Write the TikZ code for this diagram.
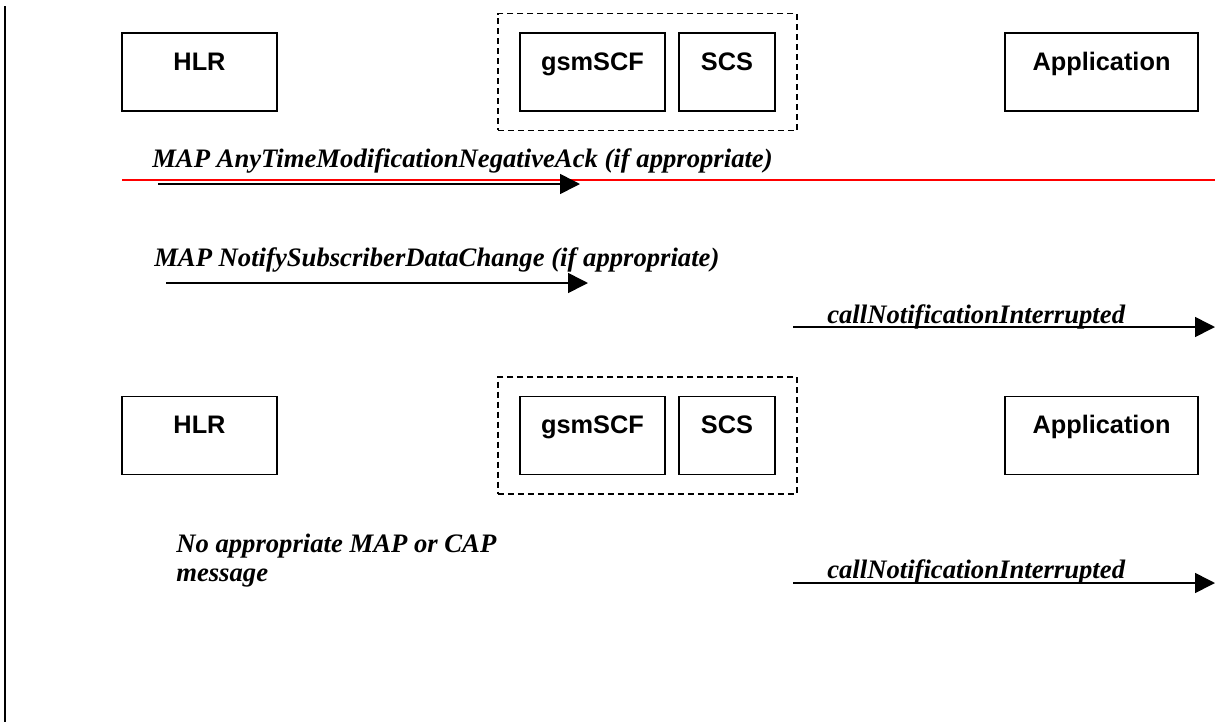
\documentclass[tikz,border=0pt]{standalone}
\usepackage{fontspec}
\setmainfont{Liberation Serif}
\newfontfamily\boxfont{Liberation Sans}
\usetikzlibrary{arrows.meta,fit}
\newcommand{\msgSize}{\fontsize{20}{21.75}\selectfont}

\begin{document}
\begin{tikzpicture}[x=0.75pt, y=-0.75pt]
  \tikzset{entity/.style={draw, line width=1.2pt, minimum height=58.5pt,
      text height=14pt, text depth=17pt,
      font=\boxfont\bfseries\fontsize{19}{23}\selectfont},
    group/.style={draw, line width=1.2pt, dash pattern=on 4.5pt off 3pt,
      inner xsep=16pt, inner ysep=14pt},
    msg/.style={font=\bfseries\itshape\msgSize, inner sep=0pt, anchor=base west, align=left},
    flow/.style={line width=1.2pt, -{Triangle[length=15pt,width=15pt]}}}
  \useasboundingbox (0,0) rectangle (1215,722);
  % left margin rule
  \coordinate (rule-t) at (5,6);
  \coordinate (rule-b) at (5,722);
  \draw[line width=1.5pt] (rule-t) -- (rule-b);
  % first state
  \node[entity, minimum width=116.25pt] (HLR-1) at (199.5,72) {HLR};
  \node[entity, minimum width=108.75pt] (gsmSCF-1) at (592.5,72) {gsmSCF};
  \node[entity, minimum width=72pt] (SCS-1) at (727,72) {SCS};
  \node[entity, minimum width=144.75pt] (App-1) at (1101.5,72) {Application};
  \node[group, fit=(gsmSCF-1)(SCS-1)] (grp-1) {};
  \node[msg] (ATM) at (152,167) {MAP AnyTimeModificationNegativeAck (if appropriate)};
  \coordinate (red-s) at (122,180);
  \coordinate (red-e) at (1215,180);
  \draw[red, line width=1.1pt] (red-s) -- (red-e);
  \coordinate (ATM-s) at (158,184);
  \coordinate (ATM-e) at (580,184);
  \draw[flow] (ATM-s) -- (ATM-e);
  \node[msg] (NSDC) at (154,266) {MAP NotifySubscriberDataChange (if appropriate)};
  \coordinate (NSDC-s) at (166,283);
  \coordinate (NSDC-e) at (588,283);
  \draw[flow] (NSDC-s) -- (NSDC-e);
  \node[msg] (CNI-1) at (827,323) {callNotificationInterrupted};
  \coordinate (CNI-1-s) at (793,327);
  \coordinate (CNI-1-e) at (1215,327);
  \draw[flow] (CNI-1-s) -- (CNI-1-e);
  % second state
  \node[entity, minimum width=116.25pt] (HLR-2) at (199.5,435.5) {HLR};
  \node[entity, minimum width=108.75pt] (gsmSCF-2) at (592.5,435.5) {gsmSCF};
  \node[entity, minimum width=72pt] (SCS-2) at (727,435.5) {SCS};
  \node[entity, minimum width=144.75pt] (App-2) at (1101.5,435.5) {Application};
  \node[group, fit=(gsmSCF-2)(SCS-2)] (grp-2) {};
  \node[msg] (NoMsg) at (176,581) {No appropriate MAP or CAP\\message};
  \node[msg] (CNI-2) at (827,578) {callNotificationInterrupted};
  \coordinate (CNI-2-s) at (793,583);
  \coordinate (CNI-2-e) at (1215,583);
  \draw[flow] (CNI-2-s) -- (CNI-2-e);
\end{tikzpicture}
\end{document}
